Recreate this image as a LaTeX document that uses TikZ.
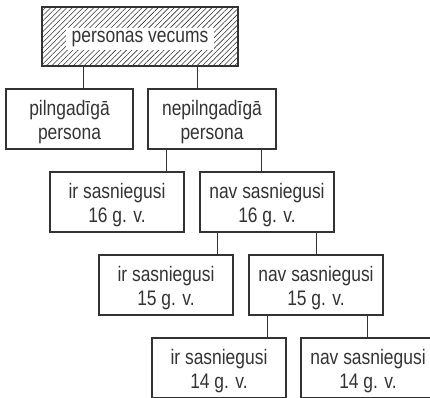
\documentclass[tikz,border=0pt]{standalone}
\usepackage{fontspec}
\setmainfont{Liberation Sans}[FakeStretch=0.83]
\usetikzlibrary{positioning, patterns.meta}
\definecolor{linegray}{HTML}{333333}
\newcommand{\boxwidth}{134pt}
\newcommand{\boxheight}{60pt}
\tikzstyle{box} = [% one age group
  rectangle,
  minimum width=\boxwidth,
  minimum height=\boxheight,
  align=center,
  text height=44pt,
  text depth=4pt,
  text=linegray,
  draw=linegray,
  line width=1.3pt,
  font=\fontsize{21}{24}\selectfont
  ]
\tikzstyle{hatched} = [% the root of the tree
  draw=linegray,
  line width=1.3pt,
  minimum width=196pt,
  minimum height=59pt,
  pattern={Lines[angle=45,distance=3.8pt,line width=0.6pt]},
  pattern color=linegray
  ]
\tikzstyle{label} = [% white patch behind the root text
  fill=white,
  inner xsep=6pt,
  inner ysep=3pt,
  text=linegray,
  font=\fontsize{21}{24}\selectfont
  ]
\tikzstyle{link} = [% plain connector
  draw=linegray,
  line width=1.3pt
  ]

\begin{document}
\begin{tikzpicture}[x=1pt, y=1pt]
\path[use as bounding box, clip] (0,0) rectangle (430,397);

%%% Nodes
\node[hatched] (vecums) at (140,360.5) {};
\node[label] (vecumstext) at (140,358) {personas vecums};
\node[box, minimum width=127pt] (pilng) at (69.5,278) {pilngadīgā\\persona};
\node[box, minimum width=128pt] (nepilng) at (212,278) {nepilngadīgā\\persona};
\node[box] (ir16) at (117,195) {ir sasniegusi\\16 g. v.};
\node[box] (nav16) at (267,195) {nav sasniegusi\\16 g. v.};
\node[box] (ir15) at (166,112) {ir sasniegusi\\15 g. v.};
\node[box] (nav15) at (316,112) {nav sasniegusi\\15 g. v.};
\node[box] (ir14) at (219,29) {ir sasniegusi\\14 g. v.};
\node[box] (nav14) at (368,29) {nav sasniegusi\\14 g. v.};

%%%
\draw[link] ([xshift=42pt]vecums.south west) -- ([xshift=42pt]vecums.south west |- pilng.north);
\draw[link] ([xshift=-41pt]vecums.south east) -- ([xshift=-41pt]vecums.south east |- nepilng.north);
\draw[link] ([xshift=19pt]nepilng.south west) -- ([xshift=19pt]nepilng.south west |- ir16.north);
\draw[link] ([xshift=-15pt]nepilng.south east) -- ([xshift=-15pt]nepilng.south east |- nav16.north);
\draw[link] ([xshift=18pt]nav16.south west) -- ([xshift=18pt]nav16.south west |- ir15.north);
\draw[link] ([xshift=-18pt]nav16.south east) -- ([xshift=-18pt]nav16.south east |- nav15.north);
\draw[link] ([xshift=19pt]nav15.south west) -- ([xshift=19pt]nav15.south west |- ir14.north);
\draw[link] ([xshift=-16pt]nav15.south east) -- ([xshift=-16pt]nav15.south east |- nav14.north);

\end{tikzpicture}
\end{document}
